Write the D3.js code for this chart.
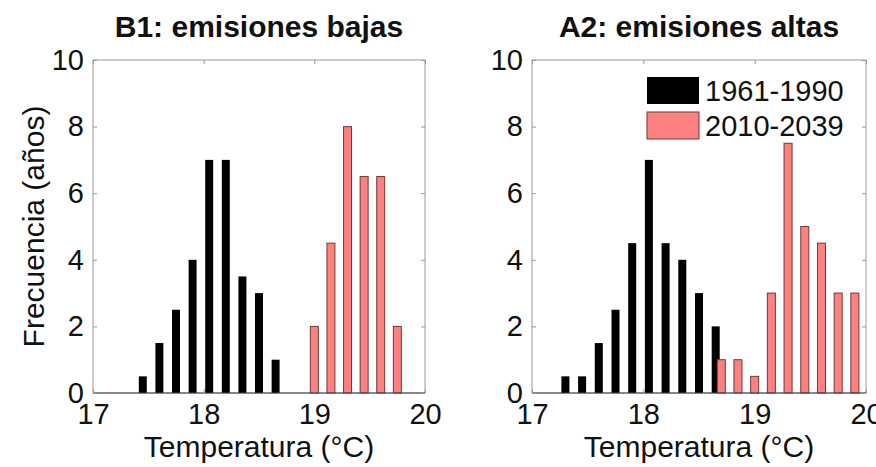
<!doctype html>
<html>
<head>
<meta charset="utf-8" />
<title>Histogramas temperatura</title>
<script src="https://cdn.jsdelivr.net/npm/d3@7"></script>
<style>
  html,body{margin:0;padding:0;background:#fff;}
  svg{display:block;font-family:"Liberation Sans",Arial,sans-serif;}
</style>
</head>
<body>
<svg id="chart" width="876" height="467"></svg>
<script>
// data
var titles = ["B1: emisiones bajas", "A2: emisiones altas"];
var seriesNames = ["1961-1990", "2010-2039"];
var yTicks = [0, 2, 4, 6, 8, 10];
var xTicks = [17, 18, 19, 20];

// B1 panel
var b1PastCenters = [17.45, 17.6, 17.75, 17.9, 18.05, 18.2, 18.35, 18.5, 18.65];
var b1PastCounts  = [0.5, 1.5, 2.5, 4, 7, 7, 3.5, 3, 1];
var b1FutCenters  = [19.0, 19.15, 19.3, 19.45, 19.6, 19.75];
var b1FutCounts   = [2, 4.5, 8, 6.5, 6.5, 2];

// A2 panel
var a2PastCenters = [17.3, 17.45, 17.6, 17.75, 17.9, 18.05, 18.2, 18.35, 18.5, 18.65];
var a2PastCounts  = [0.5, 0.5, 1.5, 2.5, 4.5, 7, 4.5, 4, 3, 2];
var a2FutCenters  = [18.7, 18.85, 19.0, 19.15, 19.3, 19.45, 19.6, 19.75, 19.9];
var a2FutCounts   = [1, 1, 0.5, 3, 7.5, 5, 4.5, 3, 3];

var colPast = "#000000", colFut = "#ff8080";
var barW = 0.072;

var svg = d3.select("#chart");
var plotTop = 60, plotBottom = 393;
var panels = [
  {left: 93, right: 425, title: titles[0], past: [b1PastCenters, b1PastCounts], fut: [b1FutCenters, b1FutCounts], ylab: true},
  {left: 532, right: 866, title: titles[1], past: [a2PastCenters, a2PastCounts], fut: [a2FutCenters, a2FutCounts], legend: true}
];

panels.forEach(function(p){
  var x = d3.scaleLinear().domain([17, 20]).range([p.left, p.right]);
  var y = d3.scaleLinear().domain([0, 10]).range([plotBottom, plotTop]);
  var g = svg.append("g");

  // box
  g.append("rect").attr("x", p.left).attr("y", plotTop)
    .attr("width", p.right - p.left).attr("height", plotBottom - plotTop)
    .attr("fill", "none").attr("stroke", "#999").attr("stroke-width", 1);

  function bars(d, fill, stroke){
    var data = d[0].map(function(c, i){ return {c: c, v: d[1][i]}; });
    g.selectAll(null).data(data).enter().append("rect")
      .attr("x", function(e){ return x(e.c - barW/2); })
      .attr("width", function(e){ return x(e.c + barW/2) - x(e.c - barW/2); })
      .attr("y", function(e){ return y(e.v); })
      .attr("height", function(e){ return y(0) - y(e.v); })
      .attr("fill", fill)
      .attr("stroke", stroke)
      .attr("stroke-width", 1);
  }
  bars(p.past, colPast, "none");
  bars(p.fut, colFut, "#6a3a3a");

  g.append("line").attr("x1", p.left).attr("x2", p.right)
    .attr("y1", plotBottom).attr("y2", plotBottom).attr("stroke", "#444");

  var ax = [
    {a: d3.axisBottom(x).tickValues(xTicks).tickFormat(d3.format("d")).tickSize(-4).tickPadding(10), t: "translate(0," + plotBottom + ")"},
    {a: d3.axisTop(x).tickValues(xTicks).tickSize(-4).tickFormat(""), t: "translate(0," + plotTop + ")"},
    {a: d3.axisLeft(y).tickValues(yTicks).tickSize(-4).tickPadding(9), t: "translate(" + p.left + ",0)"},
    {a: d3.axisRight(y).tickValues(yTicks).tickSize(-4).tickFormat(""), t: "translate(" + p.right + ",0)"}
  ];
  ax.forEach(function(o){
    var ag = g.append("g").attr("transform", o.t).call(o.a);
    ag.select(".domain").remove();
    ag.selectAll(".tick line").attr("stroke", "#999");
    ag.selectAll("text").attr("font-size", 29).attr("fill", "#111")
      .style("font-family", "'Liberation Sans',Arial,sans-serif");
  });

  svg.append("text").attr("x", (p.left + p.right)/2).attr("y", 37)
    .attr("text-anchor", "middle").attr("font-size", 30).attr("font-weight", "bold")
    .attr("fill", "#111").text(p.title);

  svg.append("text").attr("x", (p.left + p.right)/2).attr("y", 457)
    .attr("text-anchor", "middle").attr("font-size", 30).attr("fill", "#111")
    .text("Temperatura (\u00b0C)");

  if (p.ylab) {
    svg.append("text").attr("transform", "translate(44," + (plotTop + plotBottom)/2 + ") rotate(-90)")
      .attr("text-anchor", "middle").attr("font-size", 30).attr("fill", "#111")
      .text("Frecuencia (a\u00f1os)");
  }

  if (p.legend) {
    var lg = svg.append("g");
    var items = [{n: seriesNames[0], c: colPast, s: "none"}, {n: seriesNames[1], c: colFut, s: "#6a3a3a"}];
    items.forEach(function(it, i){
      var yy = 77 + i * 35;
      lg.append("rect").attr("x", 647).attr("y", yy).attr("width", 52).attr("height", 27)
        .attr("fill", it.c).attr("stroke", it.s);
      lg.append("text").attr("x", 705).attr("y", yy + 24).attr("font-size", 29)
        .attr("fill", "#111").text(it.n);
    });
  }
});
</script>
</body>
</html>
